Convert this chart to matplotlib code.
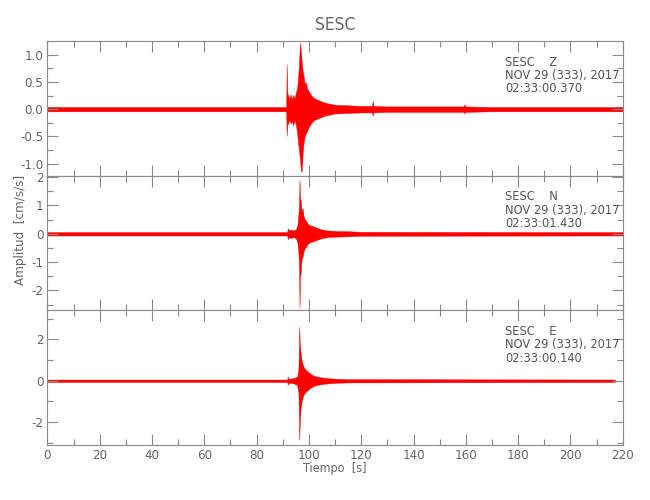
import matplotlib
matplotlib.use('Agg')
import matplotlib.pyplot as plt
from matplotlib.ticker import MultipleLocator, FormatStrFormatter

plt.rcParams['font.family'] = ['DejaVu Sans']
plt.rcParams['font.stretch'] = 'condensed'

# Envelope of each trace (time [s], upper / lower amplitude [cm/s/s])
z_t = [0, 91.3, 91.5, 91.7, 92.5, 93.0, 93.5, 94.0, 94.5, 95.0, 95.5, 95.8, 96.1, 96.4, 96.7, 97.0, 97.3, 97.6, 98.0, 98.4,
       98.8, 99.3, 100, 101, 102, 104, 106, 108, 110, 115, 120, 124.1, 124.4, 124.7, 130,
       140, 159.2, 159.5, 159.8, 170, 220]
z_hi = [0.04, 0.04, 0.82, 0.3, 0.2, 0.27, 0.18, 0.26, 0.2, 0.3, 0.4, 0.55, 0.75, 1.05, 1.22, 1.0, 0.85, 0.7, 0.6, 0.45,
        0.5, 0.38, 0.32, 0.25, 0.2, 0.16, 0.12, 0.1, 0.08, 0.07, 0.06, 0.06, 0.15, 0.06, 0.05,
        0.05, 0.05, 0.09, 0.05, 0.04, 0.04]
z_lo = [-0.04, -0.04, -0.49, -0.3, -0.2, -0.26, -0.22, -0.3, -0.2, -0.28, -0.45, -0.6, -0.7, -0.85, -1.0, -1.15, -1.12, -0.8, -0.6, -0.5,
        -0.45, -0.4, -0.32, -0.25, -0.2, -0.16, -0.12, -0.1, -0.08, -0.07, -0.06, -0.06, -0.12, -0.06, -0.05,
        -0.05, -0.05, -0.08, -0.05, -0.04, -0.04]

n_t = [0, 91.7, 91.9, 92.2, 93, 94, 95, 95.6, 96.0, 96.2, 96.4, 96.6, 96.9, 97.2, 97.6, 98.0, 98.5, 99.0, 99.5, 100.5,
       102, 103.5, 105, 107, 110, 115, 120, 220]
n_hi = [0.06, 0.06, 0.2, 0.12, 0.15, 0.12, 0.15, 0.3, 0.7, 1.0, 1.9, 1.3, 1.15, 0.8, 0.9, 0.6, 0.5, 0.45, 0.35, 0.3,
        0.25, 0.2, 0.15, 0.12, 0.1, 0.09, 0.07, 0.06]
n_lo = [-0.06, -0.06, -0.2, -0.12, -0.15, -0.12, -0.15, -0.3, -0.7, -1.1, -2.6, -1.5, -1.35, -0.9, -0.8, -0.6, -0.5, -0.45, -0.35, -0.3,
        -0.25, -0.2, -0.15, -0.12, -0.1, -0.09, -0.07, -0.06]

e_t = [0, 91.7, 91.9, 92.2, 94, 95.5, 96.0, 96.3, 96.5, 96.8, 97.2, 97.7, 98.3, 99, 100, 101, 102.5, 104, 106, 110,
       115, 217]
e_hi = [0.06, 0.06, 0.2, 0.1, 0.12, 0.2, 0.6, 2.6, 1.8, 1.4, 1.0, 0.75, 0.6, 0.5, 0.4, 0.3, 0.22, 0.18, 0.14, 0.1,
        0.08, 0.06]
e_lo = [-0.06, -0.06, -0.2, -0.1, -0.12, -0.2, -0.6, -2.85, -2.0, -1.4, -1.0, -0.75, -0.6, -0.5, -0.4, -0.3, -0.22, -0.18, -0.14, -0.1,
        -0.08, -0.06]

components = ['Z', 'N', 'E']
start_times = ['02:33:00.370', '02:33:01.430', '02:33:00.140']
date_label = 'NOV 29 (333), 2017'
station = 'SESC'

traces = [(z_t, z_hi, z_lo), (n_t, n_hi, n_lo), (e_t, e_hi, e_lo)]
ylims = [(-1.22, 1.25), (-2.7, 2.05), (-3.1, 3.4)]
ymajor = [0.5, 1, 2]
yminor = [0.25, 0.5, 1]
yfmt = ['%.1f', '%d', '%d']

gray = '#8a8a8a'
txt = '#666666'

fig, axes = plt.subplots(3, 1, figsize=(6.5, 5), dpi=100, sharex=True)
fig.subplots_adjust(left=0.073, right=0.958, top=0.918, bottom=0.11, hspace=0)

for i, ax in enumerate(axes):
    t, hi, lo = traces[i]
    ax.fill_between(t, lo, hi, color='red', lw=0.3, edgecolor='red')
    ax.set_xlim(0, 220)
    ax.set_ylim(*ylims[i])
    ax.xaxis.set_major_locator(MultipleLocator(20))
    ax.xaxis.set_minor_locator(MultipleLocator(10))
    ax.yaxis.set_major_locator(MultipleLocator(ymajor[i]))
    ax.yaxis.set_minor_locator(MultipleLocator(yminor[i]))
    ax.yaxis.set_major_formatter(FormatStrFormatter(yfmt[i]))
    ax.tick_params(which='both', direction='in', top=True, right=True,
                   color=gray, labelcolor=txt, labelsize=9.5, width=0.8)
    ax.tick_params(which='major', length=8, pad=3)
    ax.tick_params(which='minor', length=4)
    for s in ax.spines.values():
        s.set_color(gray)
        s.set_linewidth(0.8)
    ax.text(0.795, 0.816, station + '    ' + components[i], transform=ax.transAxes,
            fontsize=9.2, color='#555555', va='baseline')
    ax.text(0.795, 0.718, date_label, transform=ax.transAxes,
            fontsize=9.2, color='#555555', va='baseline')
    ax.text(0.795, 0.62, start_times[i], transform=ax.transAxes,
            fontsize=9.2, color='#555555', va='baseline')

axes[0].set_title(station, fontsize=12.5, color=txt, pad=8)
fig.text(0.515, 0.063, 'Tiempo  [s]', ha='center', va='center', fontsize=9, color=txt)
fig.text(0.032, 0.54, 'Amplitud  [cm/s/s]', rotation=90, ha='center', va='center', fontsize=9.5, color=txt)

fig.savefig('out.png', dpi=100)
